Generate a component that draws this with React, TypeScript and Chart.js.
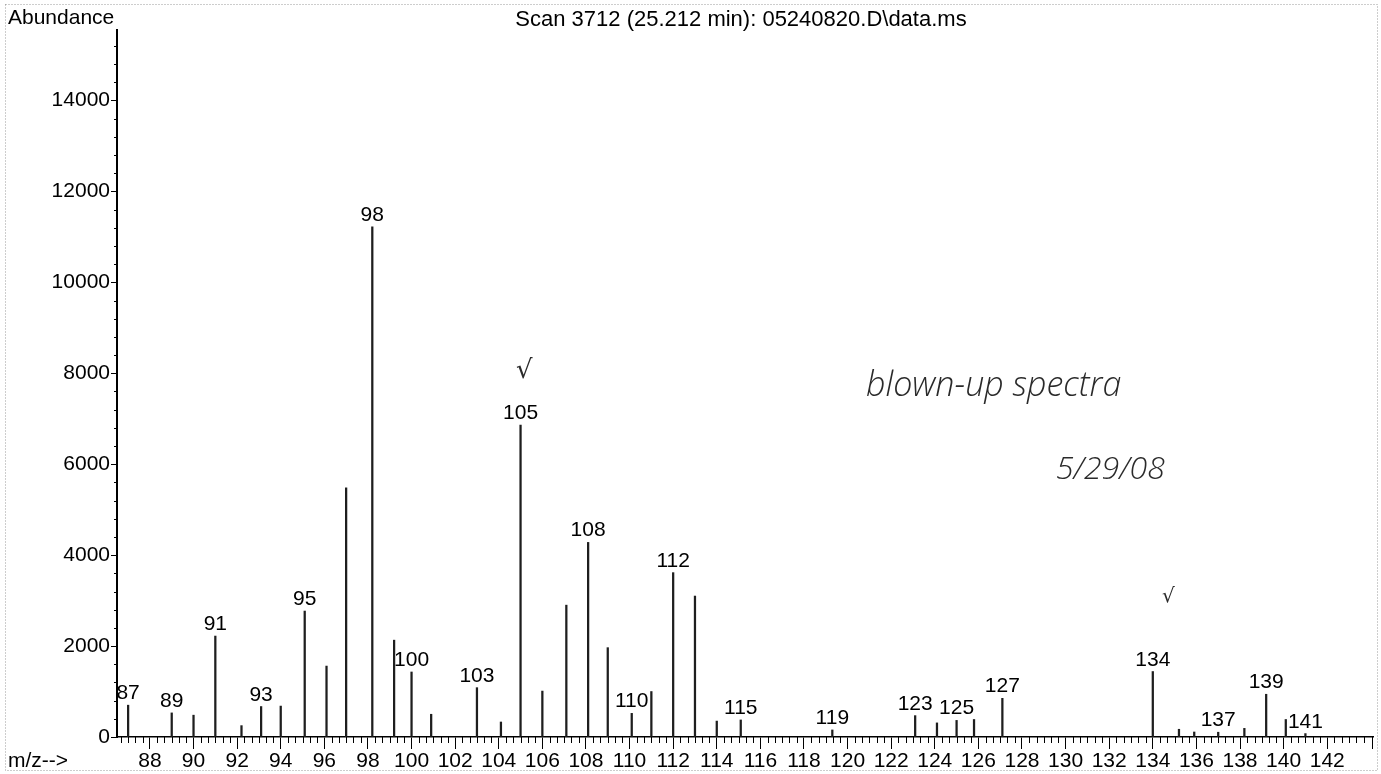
import React, { useEffect, useRef } from 'react';
import { Chart, registerables } from 'chart.js';

Chart.register(...registerables);

// ---- data ----
const masses = [87, 89, 90, 91, 92.2, 93.1, 94, 95.1, 96.1, 97, 98.2, 99.2, 100, 100.9, 103, 104.1, 105, 106, 107.1, 108.1, 109, 110.1, 111, 112, 113, 114, 115.1, 119.3, 123.1, 124.1, 125, 125.8, 127.1, 134, 135.2, 135.9, 137, 138.2, 139.2, 140.1, 141];
const abundances = [700, 530, 480, 2220, 250, 670, 680, 2770, 1560, 5480, 11220, 2130, 1430, 500, 1085, 330, 6860, 1010, 2900, 4280, 1965, 520, 1000, 3615, 3100, 350, 375, 155, 470, 310, 365, 385, 850, 1440, 170, 110, 105, 190, 940, 385, 75];
const peakLabels = ['87', '89', '', '91', '', '93', '', '95', '', '', '98', '', '100', '', '103', '', '105', '', '', '108', '', '110', '', '112', '', '', '115', '119', '123', '', '125', '', '127', '134', '', '', '137', '', '139', '', '141'];
const xTickValues = [88, 90, 92, 94, 96, 98, 100, 102, 104, 106, 108, 110, 112, 114, 116, 118, 120, 122, 124, 126, 128, 130, 132, 134, 136, 138, 140, 142];
const yTickValues = [0, 2000, 4000, 6000, 8000, 10000, 12000, 14000];
const titleText = 'Scan 3712 (25.212 min): 05240820.D\\data.ms';
const yAxisTitle = 'Abundance';
const xAxisTitle = 'm/z-->';
const noteLine1 = 'blown-up spectra';
const noteLine2 = '5/29/08';
const checkMark = '\u221A';

const FONT = '"Liberation Sans", Arial, sans-serif';

const decorPlugin = {
  id: 'decor',
  beforeDraw(chart: any) {
    const ctx = chart.ctx;
    ctx.save();
    ctx.fillStyle = '#fff';
    ctx.fillRect(0, 0, chart.width, chart.height);
    ctx.strokeStyle = '#9a9a9a';
    ctx.lineWidth = 1;
    ctx.setLineDash([1, 2]);
    ctx.strokeRect(5.5, 4.5, chart.width - 9, chart.height - 8);
    ctx.restore();
  },
  afterDraw(chart: any) {
    const ctx = chart.ctx;
    const xs = chart.scales.x;
    const ys = chart.scales.y;
    const area = chart.chartArea;
    ctx.save();
    ctx.strokeStyle = '#000';
    ctx.lineWidth = 1;
    // minor x ticks
    for (let k = -6; k < 200; k++) {
      const v = 88 + k / 3;
      if (v < xs.min || v > xs.max) continue;
      if (k % 6 === 0) continue;
      const px = Math.round(xs.getPixelForValue(v)) + 0.5;
      ctx.beginPath();
      ctx.moveTo(px, area.bottom);
      ctx.lineTo(px, area.bottom + 6);
      ctx.stroke();
    }
    // end tick
    const ex = Math.round(area.right) - 0.5;
    ctx.beginPath();
    ctx.moveTo(ex, area.bottom);
    ctx.lineTo(ex, area.bottom + 12);
    ctx.stroke();
    // minor y ticks
    for (let v = 400; v <= ys.max; v += 400) {
      if (v % 2000 === 0) continue;
      const py = Math.round(ys.getPixelForValue(v)) + 0.5;
      ctx.beginPath();
      ctx.moveTo(area.left - 3, py);
      ctx.lineTo(area.left, py);
      ctx.stroke();
    }
    // peak labels
    ctx.fillStyle = '#000';
    ctx.font = '21px ' + FONT;
    ctx.textAlign = 'center';
    ctx.textBaseline = 'alphabetic';
    masses.forEach((m, i) => {
      const lab = peakLabels[i];
      if (!lab) return;
      const px = xs.getPixelForValue(m);
      const py = ys.getPixelForValue(abundances[i]);
      ctx.fillText(lab, px, py - 6);
    });
    // titles
    ctx.textAlign = 'left';
    ctx.fillText(yAxisTitle, 8, 24);
    ctx.fillText(xAxisTitle, 8, 767);
    ctx.textAlign = 'center';
    ctx.font = '22px ' + FONT;
    ctx.fillText(titleText, 741, 26);
    // handwritten notes
    ctx.fillStyle = '#2a2a2a';
    ctx.textAlign = 'left';
    ctx.font = 'italic 300 34px "Open Sans", sans-serif';
    ctx.fillText(noteLine1, 866, 396);
    ctx.font = 'italic 300 32px "Open Sans", sans-serif';
    ctx.fillText(noteLine2, 1056, 479);
    ctx.font = '26px "DejaVu Sans", sans-serif';
    ctx.fillText(checkMark, 516, 378);
    ctx.font = '20px "DejaVu Sans", sans-serif';
    ctx.fillText(checkMark, 1162, 602);
    ctx.restore();
  },
};

export default function App() {
  const ref = useRef<HTMLCanvasElement | null>(null);
  useEffect(() => {
    if (!ref.current) return;
    const chart = new Chart(ref.current, {
      type: 'bar',
      data: {
        datasets: [
          {
            data: masses.map((m, i) => ({ x: m, y: abundances[i] })),
            backgroundColor: '#1e1e1e',
            borderWidth: 0,
            barThickness: 1.6,
          } as any,
        ],
      },
      options: {
        responsive: false,
        animation: false,
        layout: { padding: { left: 0, right: 8, top: 30, bottom: 0 } },
        plugins: {
          legend: { display: false },
          tooltip: { enabled: false },
          title: { display: false },
        },
        scales: {
          x: {
            type: 'linear',
            min: 86.49,
            max: 144.1,
            offset: false,
            afterBuildTicks: (s: any) => {
              s.ticks = xTickValues.map((v) => ({ value: v }));
            },
            afterFit: (s: any) => {
              s.height = 37;
            },
            grid: { drawOnChartArea: false, drawTicks: true, tickLength: 12, color: '#000', lineWidth: 1, offset: false },
            border: { display: true, color: '#000', width: 1.5 },
            ticks: {
              autoSkip: false,
              maxRotation: 0,
              minRotation: 0,
              padding: 0,
              color: '#000',
              font: { family: FONT, size: 21 },
              callback: (v: any) => String(v),
            },
          },
          y: {
            type: 'linear',
            min: 0,
            max: 15550,
            afterBuildTicks: (s: any) => {
              s.ticks = yTickValues.map((v) => ({ value: v }));
            },
            afterFit: (s: any) => {
              s.width = 117;
            },
            grid: { drawOnChartArea: false, drawTicks: true, tickLength: 6, color: '#000', lineWidth: 1 },
            border: { display: true, color: '#000', width: 2 },
            ticks: {
              padding: 1,
              color: '#000',
              font: { family: FONT, size: 21 },
              callback: (v: any) => String(v),
            },
          },
        } as any,
      },
      plugins: [decorPlugin],
    });
    return () => chart.destroy();
  }, []);
  return (
    <div style={{ position: 'absolute', left: 0, top: 0, width: 1381, height: 774, background: '#fff' }}>
      <canvas ref={ref} width={1381} height={774} style={{ width: 1381, height: 774, display: 'block' }} />
    </div>
  );
}
